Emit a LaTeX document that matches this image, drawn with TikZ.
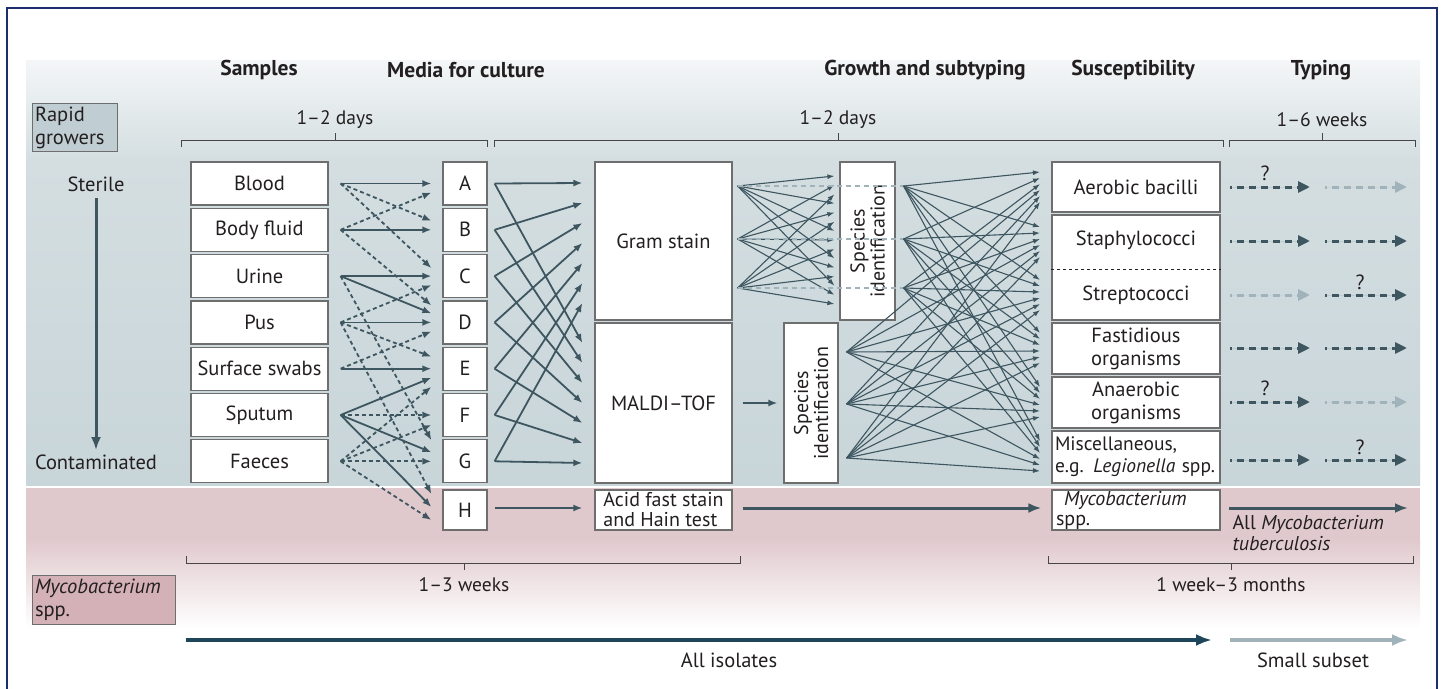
\documentclass[tikz,border=0pt]{standalone}
\usepackage{fontspec}
\setmainfont{PT Sans}
\usetikzlibrary{arrows.meta,calc}
\definecolor{framenavy}{RGB}{27, 47, 110}
\definecolor{slate}{RGB}{62, 86, 96}
\definecolor{paleslate}{RGB}{160, 178, 186}
\definecolor{boxline}{RGB}{110, 110, 110}
\definecolor{inktext}{RGB}{35, 31, 32}
\definecolor{bandlight}{RGB}{244, 246, 247}
\definecolor{bandmid}{RGB}{212, 222, 225}
\definecolor{banddark}{RGB}{200, 213, 217}
\definecolor{pinkband}{RGB}{224, 201, 205}
\definecolor{rapidfill}{RGB}{192, 206, 211}
\definecolor{mycofill}{RGB}{212, 176, 183}
\definecolor{isolateblue}{RGB}{30, 70, 90}
\definecolor{bracketgrey}{RGB}{70, 70, 70}

\begin{document}
\begin{tikzpicture}[x=1pt, y=-1pt,
    every node/.style={font=\fontsize{20.5}{23}\selectfont, text=inktext},
    head/.style={font=\bfseries\fontsize{21.5}{24}\selectfont},
    small/.style={font=\fontsize{19.5}{22}\selectfont},
    box/.style={draw=boxline, fill=white, line width=1.2, inner sep=0},
    samplebox/.style={box, minimum width=137, minimum height=43},
    mediabox/.style={box, minimum width=44, minimum height=43},
    susbox/.style={box, minimum width=168},
    sidebox/.style={draw=boxline, line width=1, align=left, text width=79, inner xsep=3, minimum height=47},
    arr/.style={draw=slate, line width=1.8, -{Latex[length=9pt, width=7pt]}},
    dasharr/.style={arr, dash pattern=on 4pt off 3pt},
    thinarr/.style={draw=slate, line width=1.1, -{Latex[length=7pt, width=5pt]}},
    bigarr/.style={draw=slate, line width=3, -{Latex[length=13pt, width=10pt]}},
    typearr/.style={line width=3, dash pattern=on 7pt off 5pt, dash phase=5pt, -{Triangle[length=12pt, width=11pt]}},
    bracket/.style={draw=bracketgrey, line width=1}]
  \useasboundingbox (0,0) rectangle (1448,688);

  \shade[top color=bandlight, bottom color=bandmid] (26,60) rectangle (1420,160);
  \fill[bandmid] (26,159) rectangle (1420,161);
  \shade[top color=bandmid, bottom color=banddark] (26,160) rectangle (1420,485);
  \fill[pinkband] (26,488) rectangle (1420,540);
  \shade[top color=pinkband, bottom color=white] (26,539) rectangle (1420,628);
  \draw[framenavy, line width=1.5] (7,690) -- (7,8) -- (1437,8) -- (1437,690);

  \node[head] (hsamp) at (259,70) {Samples};
  \node[head] (hmedia) at (466,70) {Media for culture};
  \node[head] (hgrowth) at (925,70) {Growth and subtyping};
  \node[head] (hsusc) at (1133,70) {Susceptibility};
  \node[head] (htype) at (1321,70) {Typing};

  \node[sidebox, fill=rapidfill] (rapid) at (74.5,127.5) {Rapid\\growers};
  \node (sterile) at (96,184) {Sterile};
  \node (contam) at (96,462) {Contaminated};
  \draw[bigarr, shorten <=3pt, shorten >=1pt] (sterile) -- (contam);
  \node[sidebox, fill=mycofill, text width=137, minimum height=48] (mycoleft) at (103.5,600) {\textit{Mycobacterium}\\spp.};

  \draw[bracket] (181,147) -- (181,140) -- (487,140) -- (487,147) (335,140) -- (335,133);
  \draw[bracket] (494,147) -- (494,140) -- (1223,140) -- (1223,147) (838,140) -- (838,133);
  \draw[bracket] (1229,147) -- (1229,140) -- (1415,140) -- (1415,147) (1322,140) -- (1322,133);
  \node[small] (t1) at (335,120) {1–2 days};
  \node[small] (t2) at (838,120) {1–2 days};
  \node[small] (t3) at (1322,120) {1–6 weeks};
  \draw[bracket] (186,556) -- (186,563) -- (740,563) -- (740,556) (464,563) -- (464,570);
  \draw[bracket] (1048,556) -- (1048,563) -- (1413,563) -- (1413,556) (1231,563) -- (1231,570);
  \node[small] (t4) at (464,585) {1–3 weeks};
  \node[small] (t5) at (1231,585) {1 week–3 months};

  \foreach \n/\t [count=\i from 0] in {blood/Blood, body/Body fluid, urine/Urine, pus/Pus,
      swabs/Surface swabs, sputum/Sputum, faeces/Faeces}
    \node[samplebox] (\n) at (259.5,{183.5+46.3*\i}) {\t};
  \foreach \m [count=\i from 0] in {A,...,G}
    \node[mediabox] (m\m) at (465,{183.5+46.3*\i}) {\m};
  \node[mediabox, minimum height=40] (mH) at (465,510) {H};

  \foreach \s/\t/\dy in {blood/A/0, body/B/0, urine/C/0, urine/D/-9, pus/D/0, swabs/E/0,
      sputum/E/9, sputum/G/-9, sputum/H/-3}
    \draw[arr] ($(\s.east)+(12,0)$) -- ($(m\t.west)+(-11,\dy)$);
  \foreach \s/\t/\dy in {blood/B/-9, blood/C/-8, body/A/9, body/D/-17, urine/G/-21,
      pus/C/9, pus/E/-12, pus/H/-16, swabs/D/9, sputum/F/0,
      faeces/E/18, faeces/F/10, faeces/G/0, faeces/H/10}
    \draw[dasharr] ($(\s.east)+(12,0)$) -- ($(m\t.west)+(-11,\dy)$);

  \node[box, minimum width=137, minimum height=158] (gram) at (663.5,241) {Gram stain};
  \node[box, minimum width=137, minimum height=160] (maldi) at (663.5,403) {MALDI–TOF};
  \node[box, minimum width=137, minimum height=40, align=left, font=\fontsize{20}{20}\selectfont] (acid) at (663.5,510) {Acid fast stain\\and Hain test};

  \foreach \m [count=\i from 0] in {A,...,G} {
    \draw[arr] ($(m\m.east)+(7,0)$) -- ($(gram.west)+(-12,{-58+20*\i})$);
    \draw[arr] ($(m\m.east)+(7,0)$) -- ($(maldi.west)+(-12,{-60+20*\i})$);
  }
  \draw[arr] ($(mH.east)+(7,-2)$) -- ($(acid.west)+(-12,-2)$);

  \node[box, minimum width=55, minimum height=158] (spec1) at (867.5,241) {};
  \node[rotate=90, align=center, font=\fontsize{20}{20}\selectfont] (spec1txt) at (spec1) {Species\\identification};
  \node[box, minimum width=54, minimum height=160] (spec2) at (811,403) {};
  \node[rotate=90, align=center, font=\fontsize{20}{20}\selectfont] (spec2txt) at (spec2) {Species\\identification};

  \foreach \i/\sy in {0/-55, 1/-2, 2/47}
    \foreach \j in {0,...,4}
      \draw[thinarr] ($(gram.east)+(5,\sy)$) -- ($(spec1.west)+(-5,{-65+9.14*(\i+3*\j)})$);
  \foreach \sy in {-55, -2, 47}
    \draw[paleslate, line width=1.4, dash pattern=on 5pt off 4pt] ($(gram.east)+(5,\sy)$) -- ($(spec1.east)+(8,\sy)$);
  \draw[arr] ($(maldi.east)+(10,0)$) -- ($(spec2.west)+(-6,0)$);

  \node[susbox, minimum height=50] (aer) at (1136,187) {Aerobic bacilli};
  \node[susbox, minimum height=105] (strep) at (1136,267.5) {};
  \coordinate (sdiv) at (0,269);
  \draw[inktext, dashed, line width=0.8] (strep.west |- sdiv) -- (strep.east |- sdiv);
  \node (staph) at (1136,240) {Staphylococci};
  \node (strepto) at (1136,295) {Streptococci};
  \node[susbox, minimum height=51, align=center] (fast) at (1136,348.5) {Fastidious\\organisms};
  \node[susbox, minimum height=51, align=center] (anaer) at (1136,402.5) {Anaerobic\\organisms};
  \node[susbox, minimum height=52, align=left, text width=162, inner xsep=3, font=\fontsize{19.5}{22}\selectfont] (misc) at (1136,457) {Miscellaneous,\\e.g. \textit{Legionella} spp.};
  \node[susbox, minimum height=40, align=left, text width=160, inner xsep=4, font=\fontsize{20}{20}\selectfont] (myco) at (1136,510) {\hspace{8pt}\textit{Mycobacterium}\\spp.};

  \coordinate (u1) at ($(spec1.east)+(8,-55)$);
  \coordinate (u2) at ($(spec1.east)+(8,-2)$);
  \coordinate (u3) at ($(spec1.east)+(8,47)$);
  \coordinate (l1) at ($(spec2.east)+(8,-51)$);
  \coordinate (l2) at ($(spec2.east)+(8,1)$);
  \coordinate (l3) at ($(spec2.east)+(8,55)$);
  \foreach \s [count=\si from 0] in {u1,u2,u3,l1,l2,l3}
    \foreach \ty in {187,242,295,348,402,456}
      \draw[thinarr] (\s) -- (1040,{\ty+(\si-2.5)*6});

  \foreach \y/\ca/\cb [count=\r] in {187/slate/paleslate, 241/slate/slate, 295/paleslate/slate,
      348/slate/slate, 402/slate/paleslate, 460/slate/slate} {
    \coordinate (ta\r) at (1230,\y);
    \coordinate (tb\r) at (1310,\y);
    \coordinate (tc\r) at (1325,\y);
    \coordinate (td\r) at (1407,\y);
    \draw[typearr, draw=\ca, fill=\ca] (ta\r) -- (tb\r);
    \draw[typearr, draw=\cb, fill=\cb] (tc\r) -- (td\r);
  }
  \node (q1) at (1265,173) {?};
  \node (q2) at (1360,282) {?};
  \node (q3) at (1265,388) {?};
  \node (q4) at (1360,447) {?};

  \draw[bigarr] ($(acid.east)+(10,-2)$) -- ($(myco.west)+(-10,-2)$);
  \coordinate (mtbend) at (1408,508);
  \draw[bigarr] ($(myco.east)+(8,-2)$) -- (mtbend);
  \node[align=left, anchor=north west, font=\fontsize{20}{21}\selectfont] (mtb) at (1229,512) {All \textit{Mycobacterium}\\\textit{tuberculosis}};

  \coordinate (isostart) at (186,640);
  \coordinate (isoend) at (1212,640);
  \coordinate (subsetstart) at (1230,640);
  \coordinate (subsetend) at (1408,640);
  \draw[isolateblue, line width=4, -{Latex[length=16pt, width=12pt]}] (isostart) -- (isoend);
  \draw[paleslate, line width=4, -{Latex[length=16pt, width=12pt]}] (subsetstart) -- (subsetend);
  \node (allisol) at (729,660) {All isolates};
  \node (subset) at (1313,660) {Small subset};
\end{tikzpicture}
\end{document}
